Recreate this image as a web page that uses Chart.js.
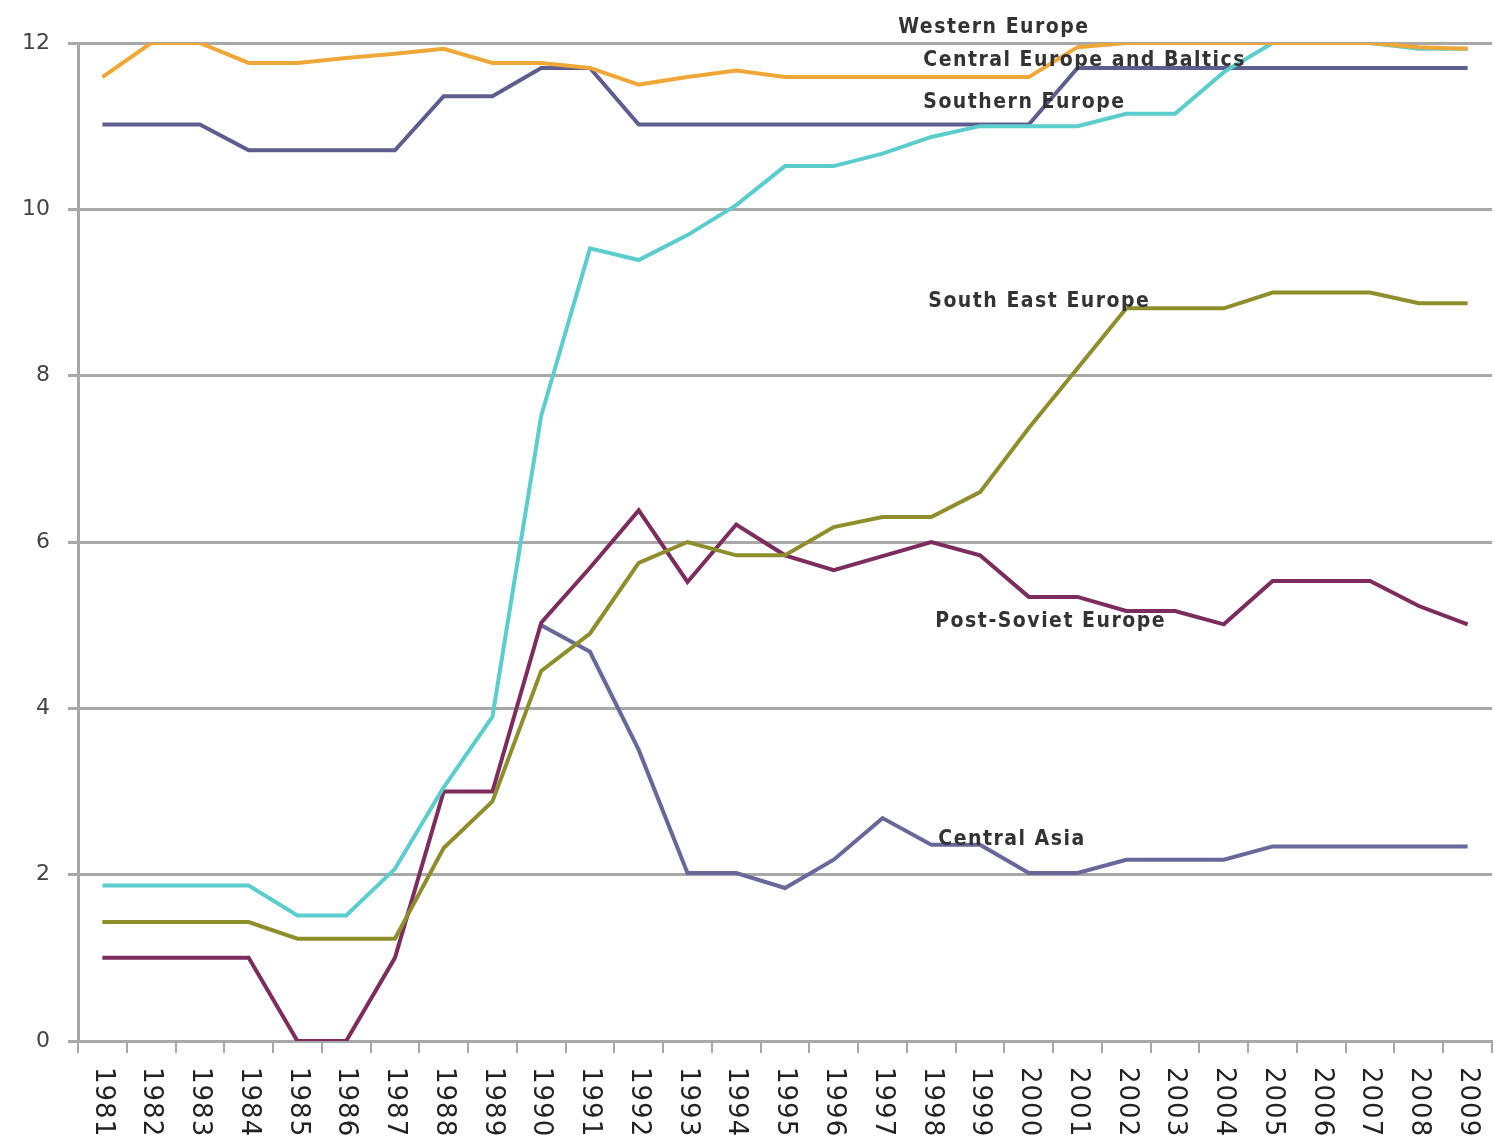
<!DOCTYPE html>
<html lang="en">
<head>
<meta charset="UTF-8">
<title>Regional trends 1981-2009</title>
<script src="https://cdn.jsdelivr.net/npm/chart.js"></script>
<style>
  html, body { margin: 0; padding: 0; background: #fff; }
  #wrap { width: 1494px; height: 1143px; }
</style>
</head>
<body>
<div id="wrap"><canvas id="chart"></canvas></div>
<script>
// categories
const years = ['1981','1982','1983','1984','1985','1986','1987','1988','1989','1990',
  '1991','1992','1993','1994','1995','1996','1997','1998','1999','2000',
  '2001','2002','2003','2004','2005','2006','2007','2008','2009'];

// series values
const westernEurope = [11.59, 12.0, 12.0, 11.76, 11.76, 11.82, 11.87, 11.93, 11.76, 11.76,
  11.7, 11.5, 11.59, 11.67, 11.59, 11.59, 11.59, 11.59, 11.59, 11.59,
  11.95, 12.0, 12.0, 12.0, 12.0, 12.0, 12.0, 11.95, 11.93];
const centralEurope = [1.87, 1.87, 1.87, 1.87, 1.51, 1.51, 2.07, 3.05, 3.9, 7.52,
  9.53, 9.39, 9.69, 10.05, 10.52, 10.52, 10.67, 10.87, 11.0, 11.0,
  11.0, 11.15, 11.15, 11.65, 12.0, 12.0, 12.0, 11.93, 11.93];
const southernEurope = [11.02, 11.02, 11.02, 10.71, 10.71, 10.71, 10.71, 11.36, 11.36, 11.7,
  11.7, 11.02, 11.02, 11.02, 11.02, 11.02, 11.02, 11.02, 11.02, 11.02,
  11.7, 11.7, 11.7, 11.7, 11.7, 11.7, 11.7, 11.7, 11.7];
const southEastEurope = [1.43, 1.43, 1.43, 1.43, 1.23, 1.23, 1.23, 2.32, 2.88, 4.45,
  4.9, 5.75, 6.0, 5.84, 5.84, 6.18, 6.3, 6.3, 6.6, 7.37,
  8.09, 8.81, 8.81, 8.81, 9.0, 9.0, 9.0, 8.87, 8.87];
const postSovietEurope = [1.0, 1.0, 1.0, 1.0, 0.0, 0.0, 1.0, 3.0, 3.0, 5.03,
  5.69, 6.38, 5.52, 6.21, 5.84, 5.66, 5.83, 6.0, 5.84, 5.34,
  5.34, 5.17, 5.17, 5.01, 5.53, 5.53, 5.53, 5.23, 5.01];
const centralAsia = [null, null, null, null, null, null, null, null, null, 5.0,
  4.68, 3.5, 2.02, 2.02, 1.84, 2.18, 2.68, 2.36, 2.36, 2.02,
  2.02, 2.18, 2.18, 2.18, 2.34, 2.34, 2.34, 2.34, 2.34];

// y tick labels
const yTicks = [0, 2, 4, 6, 8, 10, 12];

const gridGrey = '#A8A8A8';

// in-chart series names, anchored on the 1998 column
const seriesLabels = [
  { text: 'Western Europe', value: 12.19, dx: -33 },
  { text: 'Central Europe and Baltics', value: 11.79, dx: -8 },
  { text: 'Southern Europe', value: 11.29, dx: -8 },
  { text: 'South East Europe', value: 8.89, dx: -3 },
  { text: 'Post-Soviet Europe', value: 5.04, dx: 4 },
  { text: 'Central Asia', value: 2.42, dx: 7 }
];

const labelPlugin = {
  id: 'seriesLabels',
  afterDatasetsDraw(chart) {
    const ctx = chart.ctx;
    const x = chart.scales.x;
    const y = chart.scales.y;
    ctx.save();
    ctx.font = 'bold 21px "DejaVu Sans Condensed", "DejaVu Sans", sans-serif';
    ctx.letterSpacing = '1.5px';
    ctx.fillStyle = '#333333';
    ctx.textAlign = 'left';
    ctx.textBaseline = 'middle';
    const anchor = x.getPixelForValue(years.indexOf('1998'));
    seriesLabels.forEach(l => {
      ctx.fillText(l.text, anchor + l.dx, y.getPixelForValue(l.value));
    });
    ctx.restore();
  }
};

// x labels read top to bottom (rotated clockwise)
const xLabelPlugin = {
  id: 'xLabels',
  afterDraw(chart) {
    const ctx = chart.ctx;
    const x = chart.scales.x;
    ctx.save();
    ctx.font = '26px "DejaVu Sans", sans-serif';
    ctx.letterSpacing = '1px';
    ctx.fillStyle = '#222222';
    ctx.textAlign = 'left';
    ctx.textBaseline = 'middle';
    years.forEach((yr, i) => {
      ctx.save();
      ctx.translate(x.getPixelForValue(i), x.top + 26);
      ctx.rotate(Math.PI / 2);
      ctx.fillText(yr, 0, 0);
      ctx.restore();
    });
    ctx.restore();
  }
};

function line(label, data, color) {
  return {
    label: label,
    data: data,
    borderColor: color,
    backgroundColor: color,
    borderWidth: 4,
    pointRadius: 0,
    tension: 0,
    spanGaps: false
  };
}

new Chart(document.getElementById('chart'), {
  type: 'line',
  data: {
    labels: years,
    datasets: [
      line('Western Europe', westernEurope, '#EFA838'),
      line('Central Europe and Baltics', centralEurope, '#5CCDCD'),
      line('Southern Europe', southernEurope, '#5E5E8E'),
      line('South East Europe', southEastEurope, '#8E8E2C'),
      line('Post-Soviet Europe', postSovietEurope, '#7D2C5E'),
      line('Central Asia', centralAsia, '#68689A')
    ]
  },
  options: {
    responsive: true,
    maintainAspectRatio: false,
    animation: false,
    layout: { padding: { top: 43, right: 2, left: 0, bottom: 0 } },
    plugins: {
      legend: { display: false },
      tooltip: { enabled: false }
    },
    scales: {
      x: {
        offset: true,
        afterFit(scale) { scale.height = 102; },
        grid: {
          offset: true,
          drawOnChartArea: false,
          drawTicks: true,
          tickLength: 12,
          color: gridGrey,
          lineWidth: 2
        },
        border: { color: gridGrey, width: 3 },
        ticks: { display: false }
      },
      y: {
        min: 0,
        max: 12,
        afterFit(scale) { scale.width = 78; },
        afterBuildTicks(scale) { scale.ticks = yTicks.map(v => ({ value: v })); },
        grid: {
          color: gridGrey,
          lineWidth: 3,
          tickLength: 10
        },
        border: { color: gridGrey, width: 3 },
        ticks: {
          padding: 18,
          color: '#444444',
          font: { family: '"DejaVu Sans", sans-serif', size: 22 }
        }
      }
    }
  },
  plugins: [labelPlugin, xLabelPlugin]
});
</script>
</body>
</html>
